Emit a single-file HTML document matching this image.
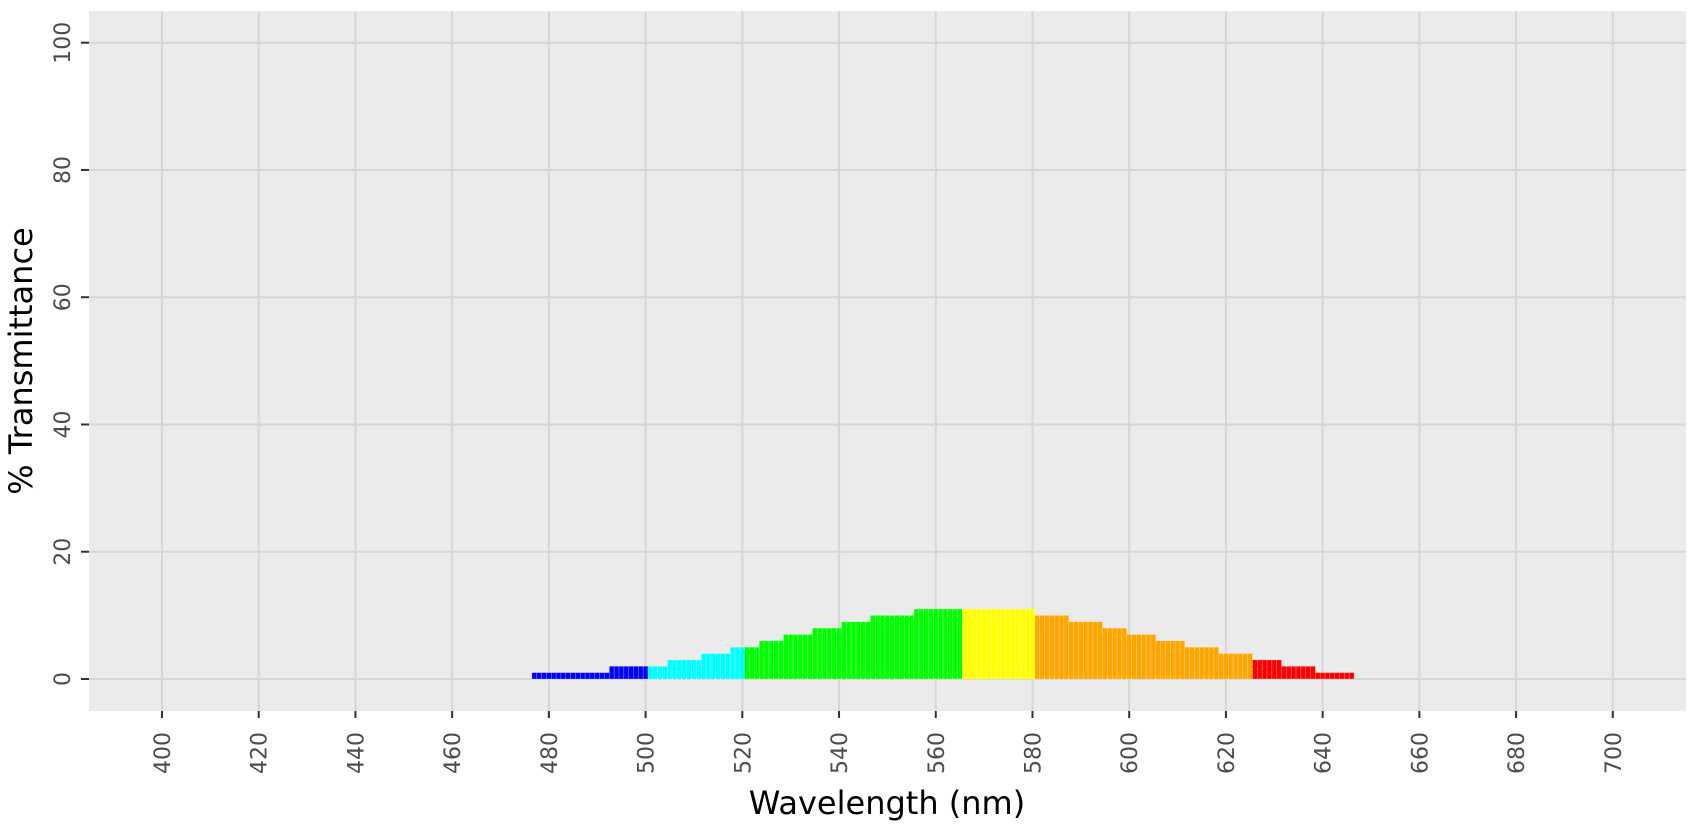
<!DOCTYPE html>
<html><head><meta charset="utf-8"><style>
html,body{margin:0;padding:0;background:#fff;}
svg{display:block;font-family:"DejaVu Sans","Liberation Sans",sans-serif;}
</style></head><body>
<svg id="s" width="1701" height="825" viewBox="0 0 1701 825" xmlns="http://www.w3.org/2000/svg">
<rect x="0" y="0" width="1701" height="825" fill="#fff"/>
<rect x="89" y="11" width="1597" height="700" fill="#ebebeb"/>
<g id="grid" stroke="#d6d6d6" stroke-width="2"></g>
<g id="bars"></g>
<g id="ticks" stroke="#333" stroke-width="2"></g>
<g id="labels" fill="#4d4d4d" font-size="22"></g>
<text x="887" y="814" font-size="32" text-anchor="middle" fill="#000">Wavelength (nm)</text>
<text transform="translate(32,361) rotate(-90)" font-size="32" text-anchor="middle" fill="#000">% Transmittance</text>
</svg>
<script>
var NS="http://www.w3.org/2000/svg";
function el(p,t,a,txt){var e=document.createElementNS(NS,t);for(var k in a)e.setAttribute(k,a[k]);if(txt!==undefined)e.textContent=txt;document.getElementById(p).appendChild(e);}
function X(n){return 162+(n-400)*4.836;}
function Y(v){return 679-v*6.363;}
for(var n=400;n<=700;n+=20){var x=X(n);
 el("grid","line",{x1:x,x2:x,y1:11,y2:711});
 el("ticks","line",{x1:x,x2:x,y1:711,y2:718});
 el("labels","text",{transform:"translate("+(x+8)+",732) rotate(-90)","text-anchor":"end"},String(n));}
for(var v=0;v<=100;v+=20){var y=Y(v);
 el("grid","line",{x1:89,x2:1686,y1:y,y2:y});
 el("ticks","line",{x1:81,x2:89,y1:y,y2:y});
 el("labels","text",{transform:"translate(70,"+y+") rotate(-90)","text-anchor":"middle"},String(v));}
var segs=[[477,492,1,"#0000ff"],[493,500,2,"#0000ff"],[501,504,2,"#00ffff"],[505,511,3,"#00ffff"],[512,517,4,"#00ffff"],[518,520,5,"#00ffff"],
[521,523,5,"#00ff00"],[524,528,6,"#00ff00"],[529,534,7,"#00ff00"],[535,540,8,"#00ff00"],[541,546,9,"#00ff00"],[547,555,10,"#00ff00"],[556,565,11,"#00ff00"],
[566,580,11,"#ffff00"],[581,587,10,"#ffa500"],[588,594,9,"#ffa500"],[595,599,8,"#ffa500"],[600,605,7,"#ffa500"],[606,611,6,"#ffa500"],[612,618,5,"#ffa500"],[619,625,4,"#ffa500"],
[626,631,3,"#ff0000"],[632,638,2,"#ff0000"],[639,646,1,"#ff0000"]];
segs.forEach(function(s){for(var n=s[0];n<=s[1];n++){var x=X(n-0.5),y=Y(s[2]);
 el("bars","rect",{x:x,y:y,width:4.836,height:679-y,fill:s[3],stroke:"rgba(255,255,255,0.35)","stroke-width":0.6});}});
</script>
</body></html>
